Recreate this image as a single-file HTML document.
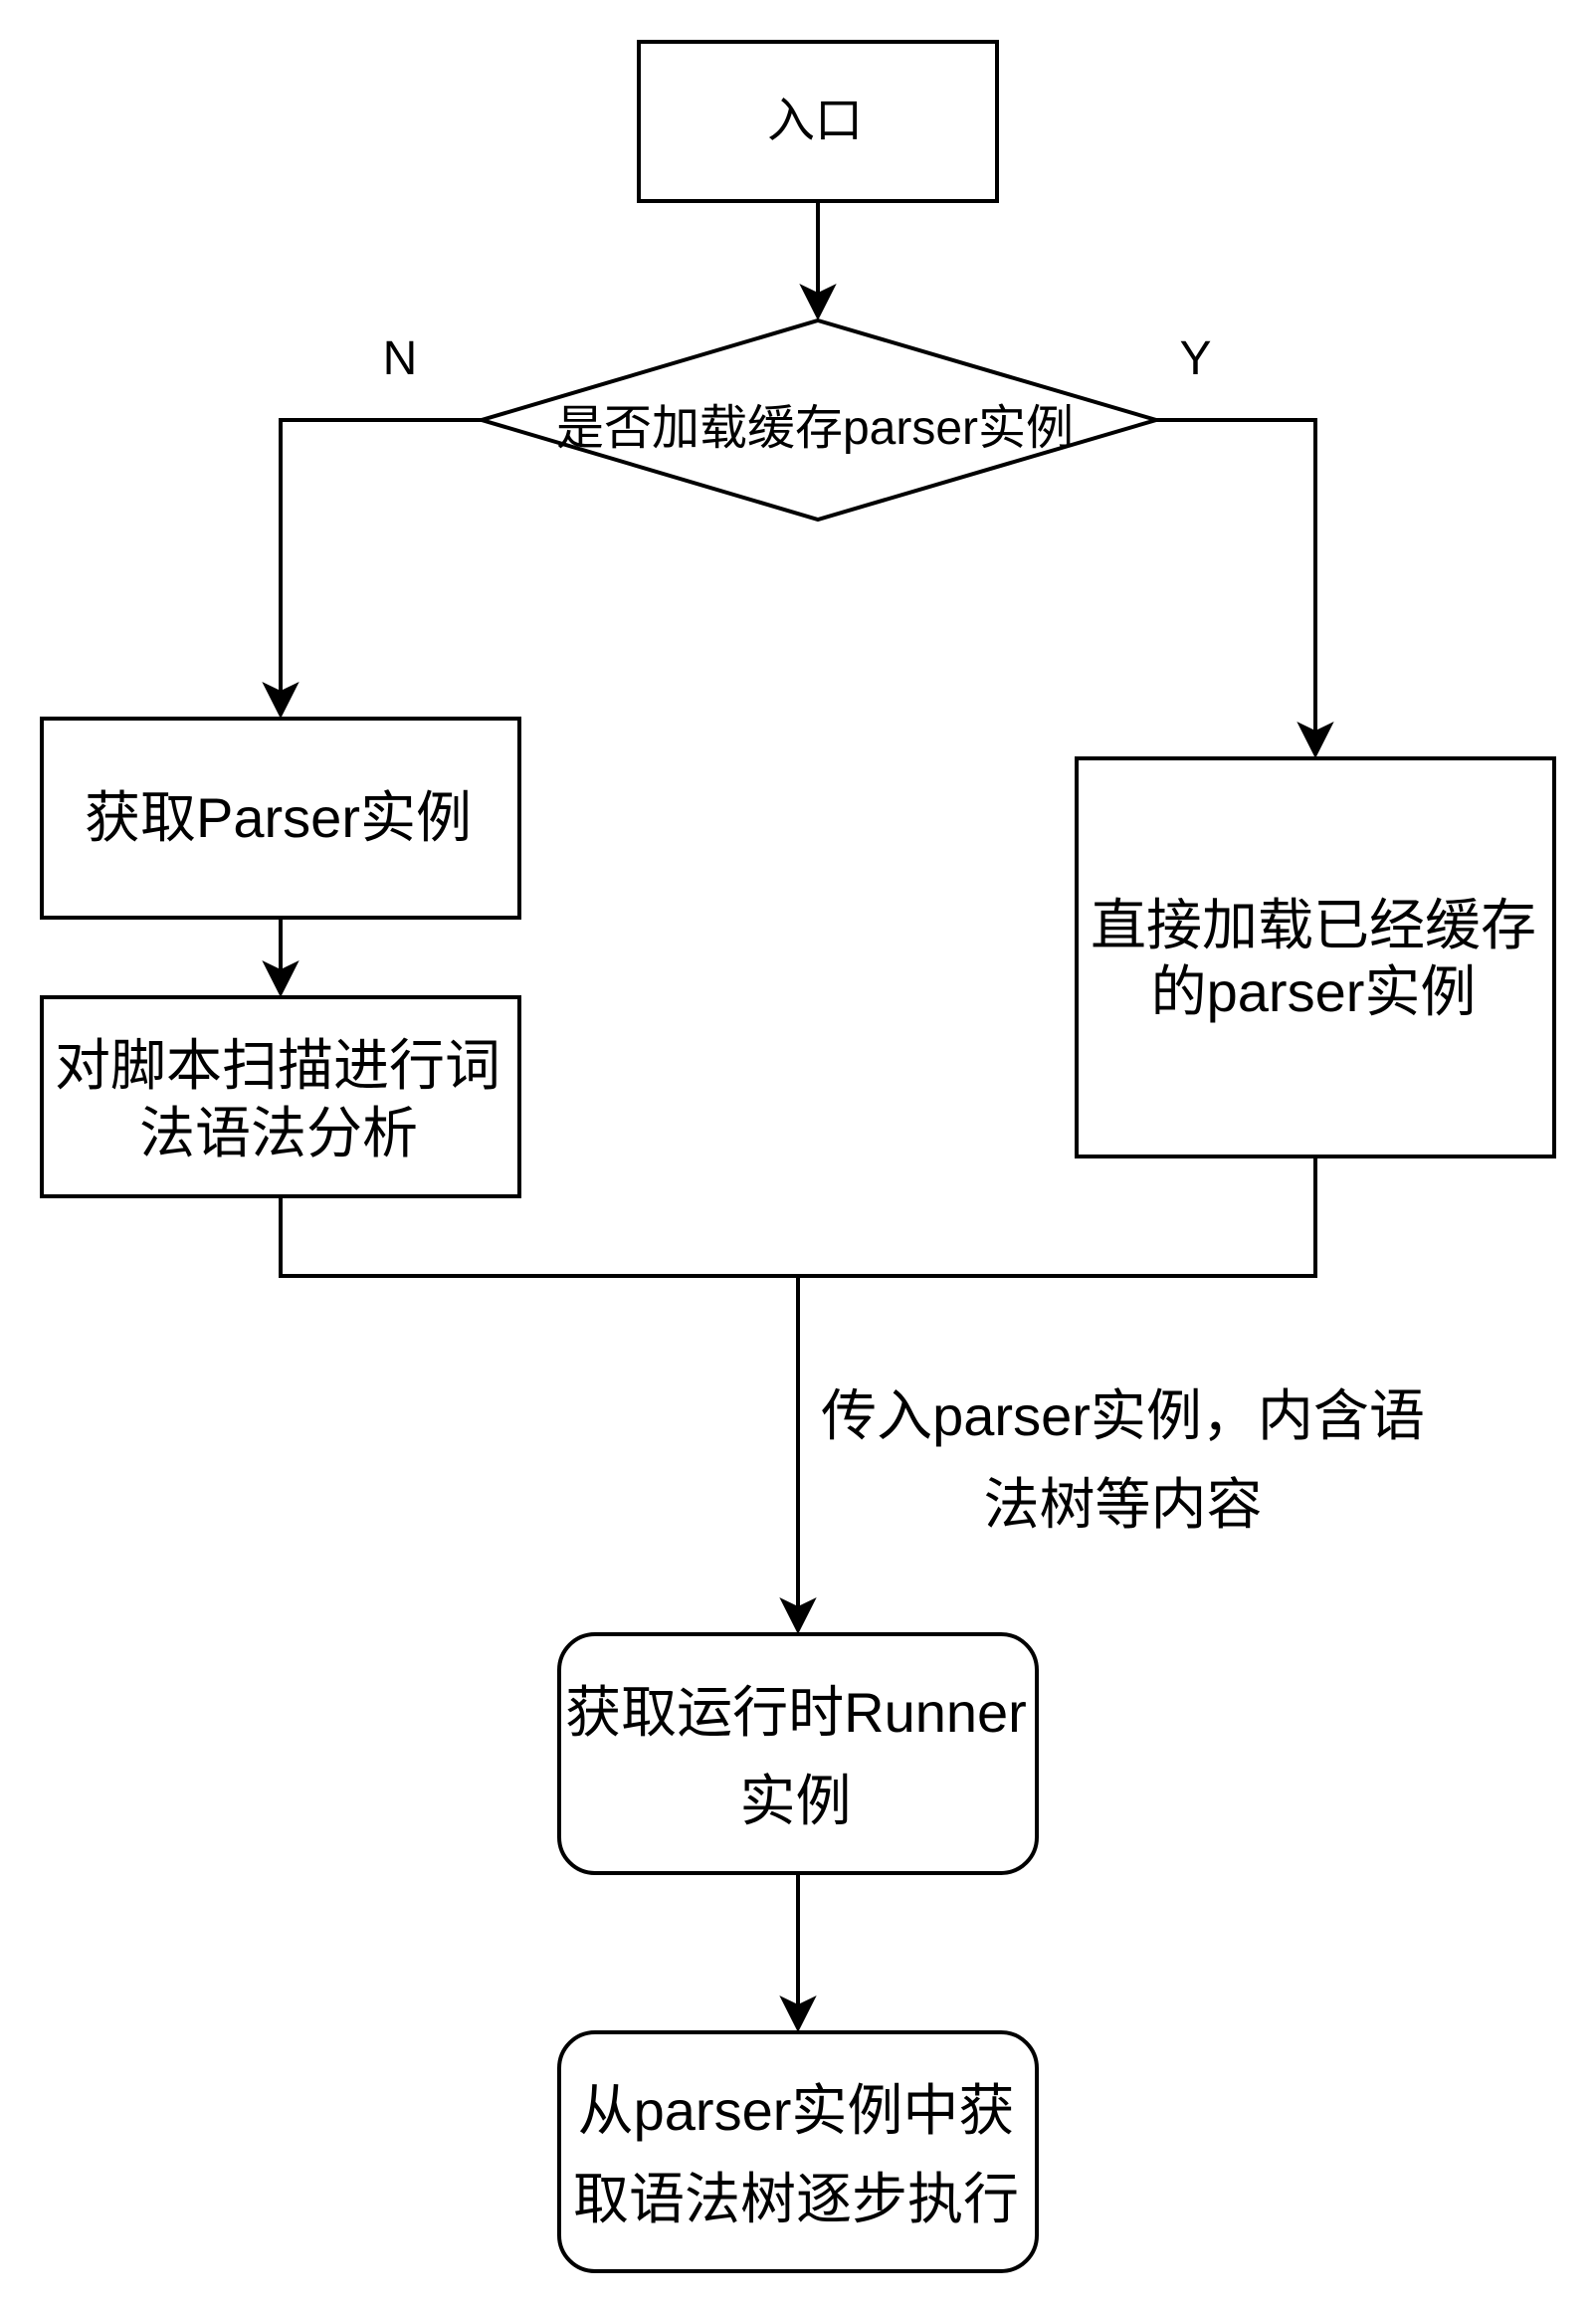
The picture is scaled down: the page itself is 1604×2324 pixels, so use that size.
<!DOCTYPE html>
<html><head><meta charset="utf-8"><style>
html,body{margin:0;padding:0;background:#fff;width:1604px;height:2324px;overflow:hidden}
svg{display:block}
text{font-family:"Liberation Sans","Noto Sans CJK SC",sans-serif;fill:#000;text-anchor:middle}
.s{fill:#fff;stroke:#000;stroke-width:4}
.l{fill:none;stroke:#000;stroke-width:4}
.a{fill:#000;stroke:none}
</style></head><body>
<svg width="1604" height="2324" viewBox="0 0 1604 2324" xmlns="http://www.w3.org/2000/svg">
<rect width="1604" height="2324" fill="#fff"/>
<path class="l" d="M822 202V296"/>
<polygon class="a" points="822,322 803.3,285 822,294 840.7,285"/>
<path class="l" d="M484 422H282V696"/>
<polygon class="a" points="282,722 263.3,685 282,694 300.7,685"/>
<path class="l" d="M1162 422H1322V736"/>
<polygon class="a" points="1322,762 1303.3,725 1322,734 1340.7,725"/>
<path class="l" d="M282 922V976"/>
<polygon class="a" points="282,1002 263.3,965 282,974 300.7,965"/>
<path class="l" d="M282 1202V1282H1322V1162"/>
<path class="l" d="M802 1282V1615"/>
<polygon class="a" points="802,1642 783.3,1605 802,1614 820.7,1605"/>
<path class="l" d="M802 1882V2016"/>
<polygon class="a" points="802,2042 783.3,2005 802,2014 820.7,2005"/>
<rect class="s" x="642" y="42" width="360" height="160"/>
<polygon class="s" points="822,322 1162,422 822,522 484,422"/>
<rect class="s" x="42" y="722" width="480" height="200"/>
<rect class="s" x="42" y="1002" width="480" height="200"/>
<rect class="s" x="1082" y="762" width="480" height="400"/>
<rect class="s" x="562" y="1642" width="480" height="240" rx="36" ry="36"/>
<rect class="s" x="562" y="2042" width="480" height="240" rx="36" ry="36"/>
<text x="819" y="137" font-size="48">入口</text>
<text x="819" y="446" font-size="48">是否加载缓存parser实例</text>
<text x="402" y="376" font-size="48">N</text>
<text x="1201.5" y="376" font-size="48">Y</text>
<text x="279.5" y="841" font-size="56">获取Parser实例</text>
<text x="279" y="1090" font-size="56">对脚本扫描进行词</text>
<text x="280" y="1158" font-size="56">法语法分析</text>
<text x="1320" y="949" font-size="56">直接加载已经缓存</text>
<text x="1320" y="1016" font-size="56">的parser实例</text>
<text x="1128.5" y="1442" font-size="56">传入parser实例，内含语</text>
<text x="1128.5" y="1531" font-size="56">法树等内容</text>
<text x="800" y="1740" font-size="56">获取运行时Runner</text>
<text x="799.5" y="1829" font-size="56">实例</text>
<text x="800" y="2140" font-size="56">从parser实例中获</text>
<text x="800" y="2229" font-size="56">取语法树逐步执行</text>
</svg>
</body></html>
